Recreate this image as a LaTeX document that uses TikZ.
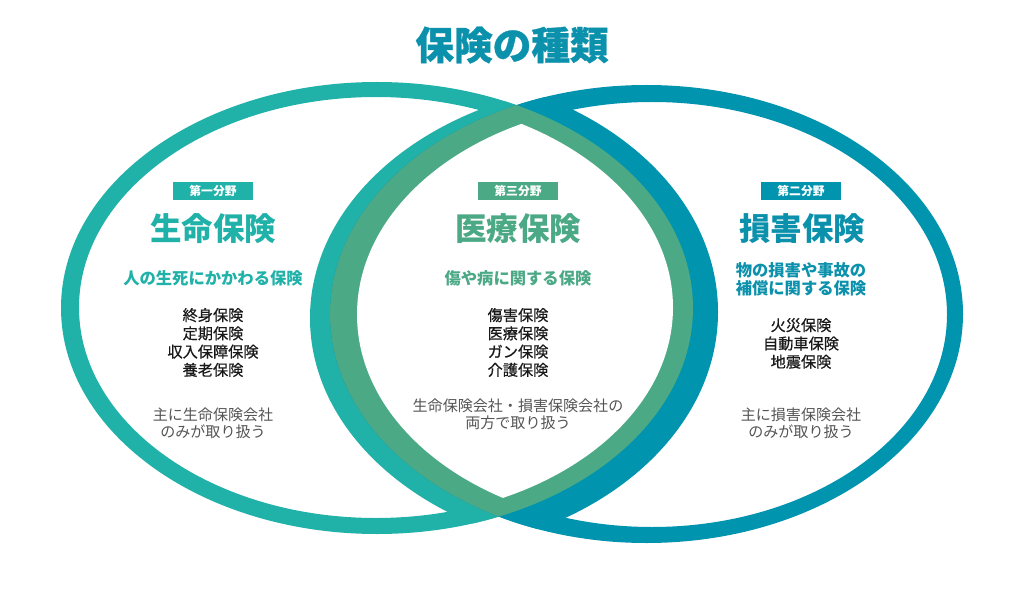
\documentclass[tikz,border=0pt]{standalone}
\usepackage{fontspec}
\setmainfont{Noto Sans CJK JP}
\definecolor{ringteal}{HTML}{20B1A8}
\definecolor{ringblue}{HTML}{0094AF}
\definecolor{ringgreen}{HTML}{4CA986}
\definecolor{titleblue}{HTML}{0B91AC}
\definecolor{memogray}{HTML}{555555}
\begin{document}
\begin{tikzpicture}[x=0.025cm,y=-0.025cm,
	tag/.style={fill=#1,text=white,font=\bfseries\fontsize{8.4}{10}\selectfont,minimum width=2cm,minimum height=0.45cm,inner sep=0},
	head/.style={text=#1,font=\bfseries\fontsize{22.4}{26}\selectfont,inner sep=0},
	lead/.style={text=#1,font=\bfseries\fontsize{11.6}{12.8}\selectfont,align=center,inner sep=0},
	items/.style={text=black!90,font=\fontsize{10.8}{13}\selectfont\addfontfeature{FakeBold=0.6},align=center,inner sep=0},
	memo/.style={text=memogray,font=\fontsize{10.7}{12.2}\selectfont,align=center,inner sep=0}]
	\fill[white] (0,0) rectangle (1024,590);
	\useasboundingbox (0,0) rectangle (1024,590);
	\def\Aout{(377,308) ellipse [x radius=316,y radius=226]}
	\def\Ain{(376,307.5) ellipse [x radius=297,y radius=210.5]}
	\def\Awide{(400,312) ellipse [x radius=318,y radius=241]}
	\def\Bout{(646.5,314) ellipse [x radius=316.5,y radius=229]}
	\def\Bin{(652,314.5) ellipse [x radius=295,y radius=212.5]}
	\def\Bwide{(630,318) ellipse [x radius=320,y radius=236]}
	\fill[ringteal,even odd rule] \Aout \Ain;
	\fill[ringblue,even odd rule] \Bout \Bin;
	\begin{scope}
		\clip \Aout;
		\fill[ringteal] \Bwide;
	\end{scope}
	\begin{scope}
		\clip \Bout;
		\fill[ringblue] \Awide;
	\end{scope}
	\begin{scope}
		\clip \Aout;
		\fill[ringgreen] \Bout;
	\end{scope}
	\begin{scope}
		\clip \Ain;
		\fill[white] \Bin;
	\end{scope}
	\node[text=titleblue,font=\bfseries\fontsize{27.5}{32}\selectfont\addfontfeature{FakeBold=0.8},inner sep=0] (title) at (512,45) {保険の種類};
	\node[tag=ringteal] (tag1) at (213,191) {第一分野};
	\node[tag=ringgreen] (tag3) at (518,191) {第三分野};
	\node[tag=ringblue] (tag2) at (801,191) {第二分野};
	\node[head=ringteal] (life) at (213,229) {生命保険};
	\node[head=ringgreen] (medical) at (518,229) {医療保険};
	\node[head=titleblue] (damage) at (802,229) {損害保険};
	\node[lead=ringteal] (lifelead) at (213,278) {人の生死にかかわる保険};
	\node[lead=ringgreen] (medicallead) at (518,278) {傷や病に関する保険};
	\node[lead=titleblue] (damagelead) at (801,279) {物の損害や事故の\\補償に関する保険};
	\node[items] (lifeitems) at (213,342.5) {終身保険\\定期保険\\収入保障保険\\養老保険};
	\node[items] (medicalitems) at (518,342.5) {傷害保険\\医療保険\\ガン保険\\介護保険};
	\node[items] (damageitems) at (801,343.5) {火災保険\\自動車保険\\地震保険};
	\node[memo] (lifememo) at (213,423.5) {主に生命保険会社\\のみが取り扱う};
	\node[memo] (medicalmemo) at (518,414) {生命保険会社・損害保険会社の\\両方で取り扱う};
	\node[memo] (damagememo) at (801,423.5) {主に損害保険会社\\のみが取り扱う};
\end{tikzpicture}
\end{document}
